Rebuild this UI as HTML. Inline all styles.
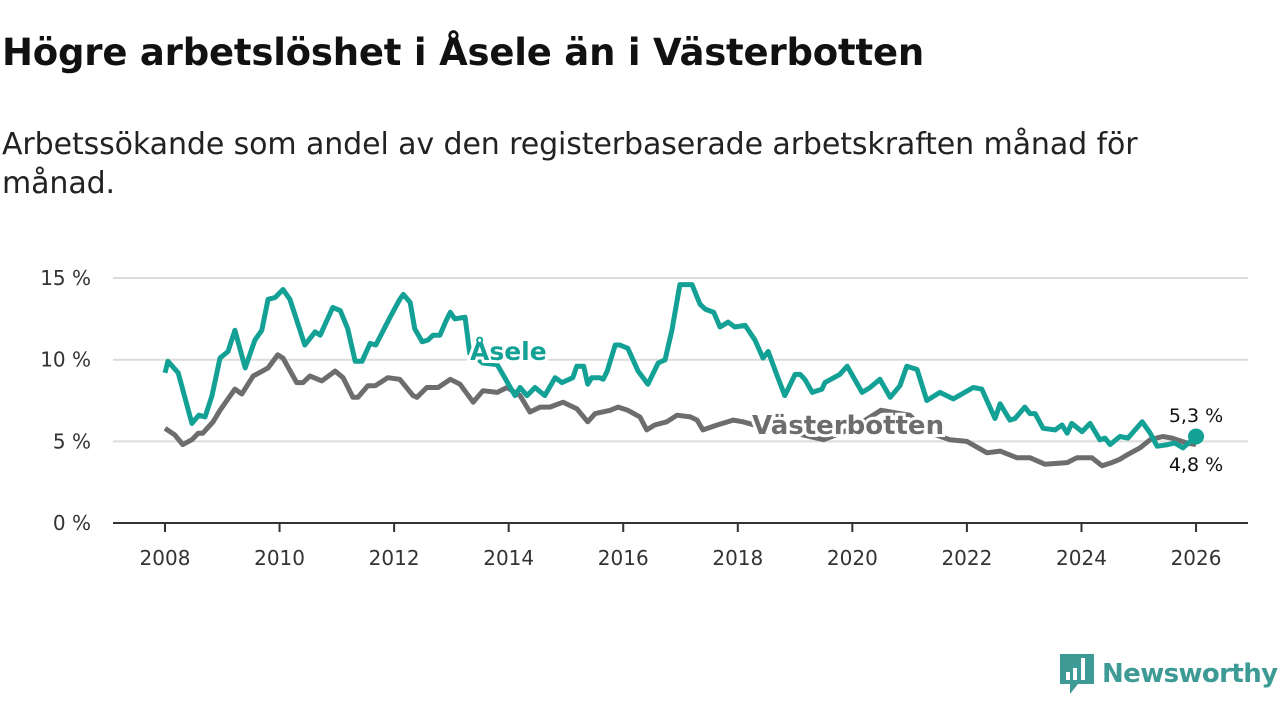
<!DOCTYPE html>
<html><head><meta charset="utf-8">
<style>
body{margin:0;width:1280px;height:720px;background:#fff;font-family:"DejaVu Sans","Liberation Sans",sans-serif;overflow:hidden;position:relative}
h1{position:absolute;left:2px;top:31px;margin:0;font-size:37px;font-weight:bold;color:#111;letter-spacing:-0.2px;white-space:nowrap}
.sub{position:absolute;left:2px;top:125px;margin:0;font-size:30px;line-height:39px;color:#222;width:1270px;white-space:nowrap;letter-spacing:-0.1px}
svg{position:absolute;left:0;top:0}
</style></head><body>
<h1>Högre arbetslöshet i Åsele än i Västerbotten</h1>
<p class="sub">Arbetssökande som andel av den registerbaserade arbetskraften månad för<br>månad.</p>
<svg id="chart" width="1280" height="720"></svg>
<div style="position:absolute;left:1058px;top:652px;display:flex;align-items:center">
<svg width="38" height="44" style="position:relative"><path d="M2 2h34v30H20l-8 10v-10H2z" fill="#3d9a94"/><rect x="8" y="20" width="4" height="8" fill="#fff"/><rect x="15" y="16" width="4" height="12" fill="#fff"/><rect x="23" y="6" width="4" height="22" fill="#fff"/></svg>
<span style="font-size:26px;color:#3d9a94;margin-left:6px;font-weight:bold;font-family:'DejaVu Sans',sans-serif;letter-spacing:-0.6px">Newsworthy</span>
</div>
<script>
const yTicks=[0,5,10,15];
const yTickLabels=["0 %","5 %","10 %","15 %"];
const xTicks=[2008,2010,2012,2014,2016,2018,2020,2022,2024,2026];
const aseleDates=[2008.0,2008.05,2008.23,2008.47,2008.59,2008.70,2008.82,2008.96,2009.10,2009.22,2009.40,2009.57,2009.69,2009.80,2009.92,2010.06,2010.18,2010.44,2010.62,2010.71,2010.93,2011.06,2011.19,2011.32,2011.44,2011.58,2011.68,2011.93,2012.10,2012.16,2012.28,2012.36,2012.49,2012.59,2012.68,2012.80,2012.91,2012.98,2013.06,2013.24,2013.32,2013.55,2013.80,2014.11,2014.20,2014.32,2014.46,2014.63,2014.81,2014.93,2015.12,2015.19,2015.31,2015.38,2015.45,2015.59,2015.65,2015.72,2015.86,2015.94,2016.08,2016.26,2016.43,2016.61,2016.73,2016.85,2016.99,2017.20,2017.34,2017.43,2017.58,2017.69,2017.83,2017.95,2018.13,2018.30,2018.44,2018.53,2018.70,2018.82,2019.00,2019.09,2019.17,2019.30,2019.47,2019.52,2019.78,2019.91,2020.17,2020.31,2020.48,2020.66,2020.83,2020.95,2021.13,2021.30,2021.53,2021.76,2022.11,2022.26,2022.49,2022.58,2022.75,2022.84,2023.01,2023.10,2023.19,2023.33,2023.54,2023.66,2023.75,2023.83,2024.01,2024.15,2024.32,2024.41,2024.50,2024.67,2024.81,2025.06,2025.20,2025.32,2025.51,2025.63,2025.77,2026.0];
const aseleValues=[9.2,9.9,9.2,6.1,6.6,6.5,7.8,10.1,10.5,11.8,9.5,11.2,11.8,13.7,13.8,14.3,13.7,10.9,11.7,11.5,13.2,13.0,11.9,9.9,9.9,11.0,10.9,12.6,13.7,14.0,13.5,11.9,11.1,11.2,11.5,11.5,12.4,12.9,12.5,12.6,10.4,9.8,9.7,7.8,8.3,7.8,8.3,7.8,8.9,8.6,8.9,9.6,9.6,8.5,8.9,8.9,8.8,9.3,10.9,10.9,10.7,9.3,8.5,9.8,10.0,11.8,14.6,14.6,13.4,13.1,12.9,12.0,12.3,12.0,12.1,11.2,10.1,10.5,8.9,7.8,9.1,9.1,8.8,8.0,8.2,8.6,9.1,9.6,8.0,8.3,8.8,7.7,8.4,9.6,9.4,7.5,8.0,7.6,8.3,8.2,6.4,7.3,6.3,6.4,7.1,6.7,6.7,5.8,5.7,6.0,5.5,6.1,5.6,6.1,5.1,5.2,4.8,5.3,5.2,6.2,5.5,4.7,4.8,4.9,4.6,5.3];
const vbDates=[2008.0,2008.17,2008.31,2008.47,2008.58,2008.66,2008.84,2008.96,2009.22,2009.34,2009.54,2009.80,2009.97,2010.06,2010.30,2010.41,2010.53,2010.74,2010.97,2011.11,2011.28,2011.37,2011.54,2011.67,2011.89,2012.10,2012.33,2012.40,2012.57,2012.77,2012.98,2013.15,2013.38,2013.55,2013.80,2013.97,2014.20,2014.37,2014.55,2014.72,2014.95,2015.19,2015.38,2015.51,2015.77,2015.91,2016.08,2016.29,2016.41,2016.55,2016.76,2016.94,2017.17,2017.29,2017.39,2017.64,2017.92,2018.09,2018.5,2019.0,2019.5,2020.0,2020.5,2021.0,2021.3,2021.70,2022.0,2022.35,2022.58,2022.87,2023.10,2023.36,2023.75,2023.92,2024.18,2024.36,2024.53,2024.67,2024.81,2025.02,2025.20,2025.42,2025.58,2025.84,2026.0];
const vbValues=[5.8,5.4,4.8,5.1,5.5,5.5,6.2,6.9,8.2,7.9,9.0,9.5,10.3,10.1,8.6,8.6,9.0,8.7,9.3,8.9,7.7,7.7,8.4,8.4,8.9,8.8,7.8,7.7,8.3,8.3,8.8,8.5,7.4,8.1,8.0,8.3,7.8,6.8,7.1,7.1,7.4,7.0,6.2,6.7,6.9,7.1,6.9,6.5,5.7,6.0,6.2,6.6,6.5,6.3,5.7,6.0,6.3,6.2,5.8,5.5,5.1,5.8,6.9,6.6,5.6,5.1,5.0,4.3,4.4,4.0,4.0,3.6,3.7,4.0,4.0,3.5,3.7,3.9,4.2,4.6,5.1,5.3,5.2,4.9,4.8];

const NS="http://www.w3.org/2000/svg";
const svg=document.getElementById('chart');
const X=y=>165+(y-2008)*57.28;
const Y=v=>523-v*16.33;
const FF='DejaVu Sans, Liberation Sans, sans-serif';
function mk(tag,attrs,parent){const e=document.createElementNS(NS,tag);for(const k in attrs)e.setAttribute(k,attrs[k]);(parent||svg).appendChild(e);return e;}

yTicks.forEach((t,i)=>{
  if(t>0){const g=mk('line',{x1:113,x2:1248,y1:Y(t),y2:Y(t),stroke:'#dcdcdc','stroke-width':2});
  
  }
  const l=mk('text',{x:91,y:Y(t)+7,'text-anchor':'end','font-size':20,fill:'#333','font-family':FF});
  l.textContent=yTickLabels[i];
  
  
});
const ax=mk('line',{x1:113,x2:1248,y1:523,y2:523,stroke:'#333','stroke-width':2});


xTicks.forEach(t=>{
  const tk=mk('line',{x1:X(t),x2:X(t),y1:523,y2:532,stroke:'#333','stroke-width':2});
  
  
  const l=mk('text',{x:X(t),y:565,'text-anchor':'middle','font-size':20,fill:'#333','font-family':FF});
  l.textContent=t;
  
  
});
function pts(d,v){return d.map((x,i)=>X(x).toFixed(1)+','+Y(v[i]).toFixed(1)).join(' ');}
const vb=mk('polyline',{points:pts(vbDates,vbValues),fill:'none',stroke:'#6d6d6f','stroke-width':5,'stroke-linejoin':'round'});


const as=mk('polyline',{points:pts(aseleDates,aseleValues),fill:'none',stroke:'#13a196','stroke-width':5,'stroke-linejoin':'round'});


const dot=mk('circle',{cx:X(aseleDates[aseleDates.length-1]),cy:Y(aseleValues[aseleValues.length-1]),r:8,fill:'#13a196'});


function lab(txt,x,y,fill,name,size,bold,anchor){
  const t=mk('text',{x:x,y:y,fill:fill,'font-size':size,'font-weight':bold?'bold':'normal','text-anchor':anchor||'start',stroke:'#fff','stroke-width':bold?6:4,'paint-order':'stroke','font-family':FF});
  t.textContent=txt;
  
  
}
lab('Åsele',470,360,'#13a196','asele-series-label',25,true);
lab('Västerbotten',752,434,'#6d6d6f','vasterbotten-series-label',26,true);
lab('5,3 %',1196,422,'#111','asele-end-value',19,false,'middle');
lab('4,8 %',1196,471,'#111','vasterbotten-end-value',19,false,'middle');
</script>
</body></html>
